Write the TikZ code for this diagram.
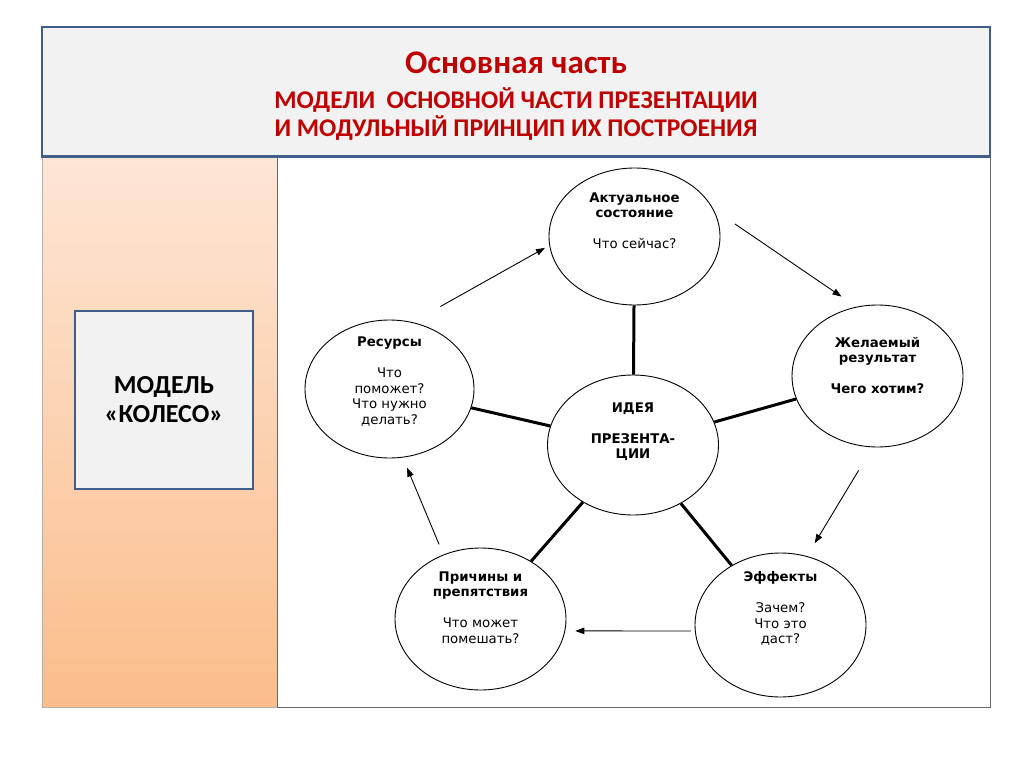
\documentclass[tikz,border=0pt]{standalone}
\usepackage{fontspec}
\setmainfont{Carlito}
\newfontfamily\circfont{DejaVu Sans}
\usetikzlibrary{shapes.geometric,arrows.meta}
\definecolor{hdrred}{HTML}{C00000}
\definecolor{framecol}{HTML}{3F5F8A}
\definecolor{panelgray}{HTML}{F2F2F2}
\definecolor{peachtop}{HTML}{FDE6D5}
\definecolor{peachbot}{HTML}{FBBD8B}
\begin{document}
\begin{tikzpicture}[x=1pt,y=-1pt,
  bubble/.style={ellipse, draw, line width=0.9pt, minimum width=171pt, minimum height=140pt, inner sep=0pt},
  btext/.style={align=center, inner sep=0pt, font=\circfont\fontsize{13.3}{15.5}\selectfont},
  spoke/.style={line width=3pt},
  arr/.style={line width=0.9pt, -{Triangle[length=9pt,width=6.5pt]}},
  boxframe/.style={draw=framecol, line width=2.5pt, fill=panelgray}
]
\useasboundingbox[fill=white] (0,0) rectangle (1024,767);
% header
\path[boxframe] (42,27) rectangle (990,157);
\node[font=\bfseries\fontsize{33}{38}\selectfont, text=hdrred] (title) at (516,63) {Основная часть};
\node[font=\bfseries\fontsize{25.5}{28}\selectfont, text=hdrred, align=center] (subtitle) at (516,114) {МОДЕЛИ\ \ ОСНОВНОЙ ЧАСТИ ПРЕЗЕНТАЦИИ\\И МОДУЛЬНЫЙ ПРИНЦИП ИХ ПОСТРОЕНИЯ};
% panels
\shade[top color=peachtop, bottom color=peachbot] (42,157) rectangle (277,707);
\draw[gray!60, line width=0.8pt] (42,157) rectangle (277,707);
\draw[gray!80!black, line width=0.8pt] (277,157) rectangle (990,707);
\draw[framecol, line width=3pt] (42,157) -- (990,157);
\node[boxframe, minimum width=178pt, minimum height=178pt, font=\bfseries\fontsize{26}{29}\selectfont, align=center] (model) at (164,400) {МОДЕЛЬ\\«КОЛЕСО»};
% wheel
\node[bubble, minimum height=137pt] (top) at (634.5,236.5) {};
\node[bubble, minimum width=169pt, minimum height=138pt] (res) at (389.5,389) {};
\node[bubble, minimum height=142pt] (want) at (877.5,376) {};
\node[bubble] (idea) at (633,445) {};
\node[bubble, minimum height=142pt] (cause) at (480.5,619) {};
\node[bubble, minimum height=144pt] (eff) at (780.5,625) {};
\node[btext] (topt) at (634.5,220.5) {\textbf{Актуальное}\\\textbf{состояние}\\[15.5pt]Что сейчас?};
\node[btext] (rest) at (389.5,381.5) {\textbf{Ресурсы}\\[15.5pt]Что\\поможет?\\Что нужно\\делать?};
\node[btext] (wantt) at (877.5,365.5) {\textbf{Желаемый}\\\textbf{результат}\\[15.5pt]\textbf{Чего хотим?}};
\node[btext] (ideat) at (633,431.5) {\textbf{ИДЕЯ}\\[15.5pt]\textbf{ПРЕЗЕНТА-}\\\textbf{ЦИИ}};
\node[btext] (causet) at (480.5,607.5) {\textbf{Причины и}\\\textbf{препятствия}\\[15.5pt]Что может\\помешать?};
\node[btext] (efft) at (780.5,608.5) {\textbf{Эффекты}\\[15.5pt]Зачем?\\Что это\\даст?};
% spokes
\draw[spoke] (idea) -- (top);
\draw[spoke] (idea) -- (res);
\draw[spoke] (idea) -- (want);
\draw[spoke] (idea) -- (cause);
\draw[spoke] (idea) -- (eff);
% arrows
\draw[arr, shorten <=32pt, shorten >=5pt] (res.71.8) -- (top.186.3);
\draw[arr, shorten <=26pt, shorten >=18pt] (top.19.4) -- (want.107.7);
\draw[arr, shorten <=27pt, shorten >=15pt] (want.266.1) -- (eff.69.8);
\draw[arr, shorten <=4pt, shorten >=10pt] (eff.184) -- (cause.352.6);
\draw[arr, shorten <=11pt, shorten >=11pt] (cause.120.8) -- (res.281.7);
\end{tikzpicture}
\end{document}
